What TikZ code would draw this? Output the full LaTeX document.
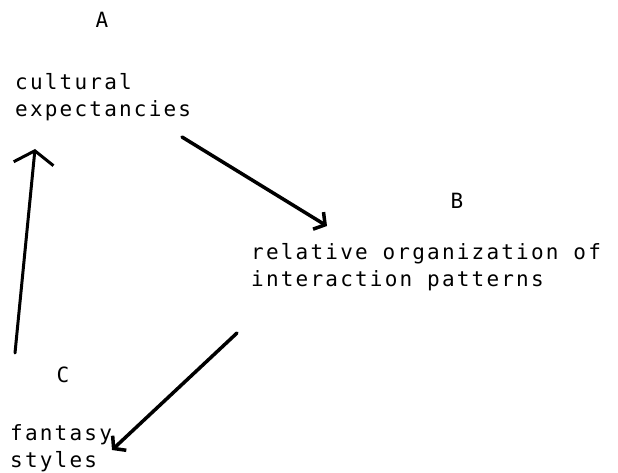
\documentclass[tikz,border=0pt]{standalone}
\usepackage{fontspec}
\newfontfamily\typefont[LetterSpace=10.5]{DejaVu Sans Mono}
\usetikzlibrary{arrows.meta}

\begin{document}
\begin{tikzpicture}[x=1pt, y=-1pt,
    every node/.style={inner sep=0pt, font=\typefont\fontsize{21}{27}\selectfont},
    txt/.style={anchor=base west, align=left},
    lbl/.style={anchor=base},
    link/.style={line width=3.5pt, line cap=round, -{Straight Barb[length=8pt, width=20pt, line width=3.5pt]}}]
  \useasboundingbox (0,0) rectangle (618,473);
  % labels
  \node[lbl] (A) at (102,28) {A};
  \node[txt] (a) at (15,117) {cultural\\expectancies};
  \node[lbl] (B) at (457,208) {B};
  \node[txt] (b) at (251,286) {relative organization of\\interaction patterns};
  \node[lbl] (C) at (63,382) {C};
  \node[txt] (c) at (10,467) {fantasy\\styles};
  % arrow ends
  \coordinate (a-out) at (182,137);
  \coordinate (b-in) at (327,226);
  \coordinate (b-out) at (237,333);
  \coordinate (c-in) at (112,450);
  \coordinate (c-out) at (15,353);
  \coordinate (a-in) at (35,149);
  \path[link]
  (a-out) edge (b-in)
  (b-out) edge (c-in)
  (c-out) edge[-{Straight Barb[length=13pt, width=40pt, line width=3pt]}, line width=3pt] (a-in)
          ;
\end{tikzpicture}
\end{document}
